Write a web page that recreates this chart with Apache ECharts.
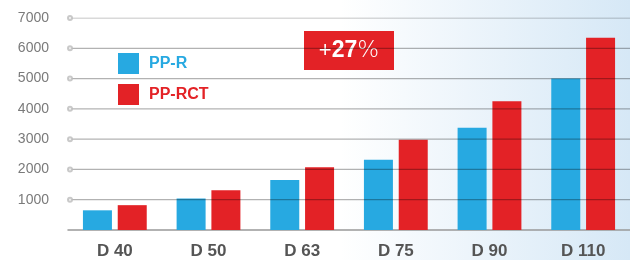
<!DOCTYPE html>
<html>
<head>
<meta charset="utf-8">
<script src="https://cdn.jsdelivr.net/npm/echarts@6/dist/echarts.min.js"></script>
<style>
  html, body { margin: 0; padding: 0; background: #fff; }
  #chart { width: 630px; height: 260px; }
</style>
</head>
<body>
<div id="chart"></div>
<script>
// data
const categories = ["D 40", "D 50", "D 63", "D 75", "D 90", "D 110"];
const ppR = [650, 1040, 1650, 2320, 3380, 5000];
const ppRct = [820, 1310, 2070, 2980, 4250, 6350];
const yTicks = [1000, 2000, 3000, 4000, 5000, 6000, 7000];
const badgeText = "+27%";

const BLUE = "#27a9e1";
const RED = "#e32226";

// grid lines over the bars: one thin line per tick, on the helper x axis (0..1)
const gridLineSeries = yTicks.map((v) => ({
  type: "line",
  xAxisIndex: 1,
  data: [[0, v], [1, v]],
  symbol: "none",
  silent: true,
  z: 8,
  lineStyle: { color: "rgba(0,0,0,0.3)", width: 1.2 },
}));

const chart = echarts.init(document.getElementById("chart"));
chart.setOption({
  animation: false,
  backgroundColor: "#fff",
  grid: { left: 68, right: 0, top: 18, bottom: 28 },
  graphic: [
    {
      // light blue wash on the right side
      type: "rect",
      z: -10,
      silent: true,
      shape: { x: 340, y: 0, width: 290, height: 260 },
      style: {
        fill: new echarts.graphic.LinearGradient(0, 0, 1, 0, [
          { offset: 0, color: "rgba(214,232,246,0)" },
          { offset: 1, color: "rgba(214,232,246,1)" },
        ]),
      },
    },
    {
      // the +27% badge
      type: "group",
      left: 304,
      top: 31,
      z: 50,
      children: [
        {
          type: "rect",
          shape: { x: 0, y: 0, width: 90, height: 39 },
          style: { fill: RED },
        },
        {
          type: "text",
          x: 45,
          y: 20,
          style: {
            text: "{a|+}{b|27}{c|%}",
            align: "center",
            verticalAlign: "middle",
            rich: {
              a: { fill: "#fff", fontSize: 22, fontFamily: "Liberation Sans" },
              b: { fill: "#fff", fontSize: 23, fontWeight: "bold", fontFamily: "Liberation Sans" },
              c: { fill: "#fff", fontSize: 23, fontFamily: "DejaVu Sans", fontWeight: 200 },
            },
          },
        },
      ],
    },
  ],
  legend: {
    orient: "vertical",
    left: 118,
    top: 53,
    padding: 0,
    itemWidth: 21,
    itemHeight: 21,
    itemGap: 10,
    icon: "rect",
    selectedMode: false,
    textStyle: {
      fontSize: 16,
      fontWeight: "bold",
      fontFamily: "Liberation Sans",
      padding: [0, 0, 0, 5],
    },
    data: [
      { name: "PP-R", textStyle: { color: BLUE } },
      { name: "PP-RCT", textStyle: { color: RED } },
    ],
  },
  xAxis: [
    {
      type: "category",
      data: categories,
      axisTick: { show: false },
      axisLine: { lineStyle: { color: "#999", width: 1.5 } },
      axisLabel: {
        margin: 13,
        color: "#555",
        fontSize: 17,
        fontWeight: "bold",
        fontFamily: "Liberation Sans",
      },
    },
    { type: "value", min: 0, max: 1, show: false },
  ],
  yAxis: {
    type: "value",
    min: 0,
    max: 7000,
    interval: 1000,
    axisLine: { show: false },
    axisTick: { show: false },
    axisLabel: {
      margin: 19,
      color: "#7a7a7a",
      fontSize: 14,
      fontFamily: "Liberation Sans",
      formatter: (v) => (v === 0 ? "" : String(v)),
    },
    splitLine: { show: false },
  },
  series: [
    {
      name: "PP-R",
      type: "bar",
      data: ppR,
      barWidth: 29,
      barGap: "20%",
      itemStyle: { color: BLUE },
      z: 2,
    },
    {
      name: "PP-RCT",
      type: "bar",
      data: ppRct,
      barWidth: 29,
      itemStyle: { color: RED },
      z: 2,
    },
    ...gridLineSeries,
    {
      // small hollow dot at the start of each grid line
      type: "scatter",
      xAxisIndex: 1,
      data: yTicks.map((v) => [0, v]),
      symbol: "emptyCircle",
      symbolSize: 4,
      symbolOffset: [2, 0],
      itemStyle: { color: "#bbb", borderColor: "#bbb", borderWidth: 1 },
      silent: true,
      z: 9,
    },
  ],
});
</script>
</body>
</html>
